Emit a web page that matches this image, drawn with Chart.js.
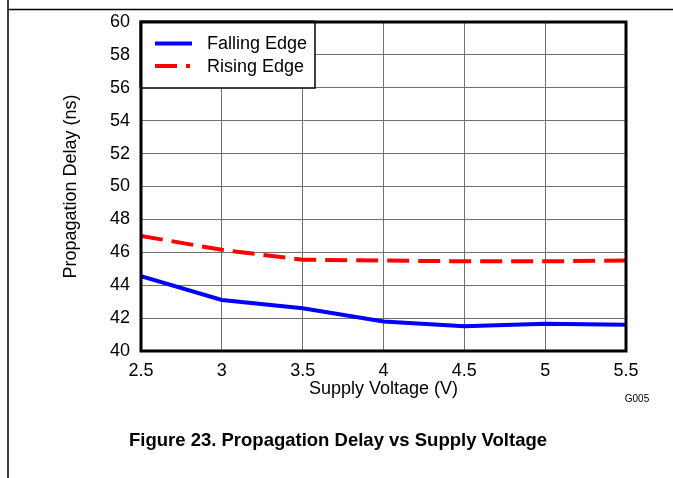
<!DOCTYPE html>
<html>
<head>
<meta charset="utf-8">
<script src="https://cdn.jsdelivr.net/npm/chart.js@4.4.1/dist/chart.umd.min.js"></script>
<style>
  html, body { margin: 0; padding: 0; background: #ffffff; }
  #wrap { width: 673px; height: 478px; }
</style>
</head>
<body>
<div id="wrap"><canvas id="c" width="673" height="478"></canvas></div>
<script>
// Data
const voltages = [2.5, 3, 3.5, 4, 4.5, 5, 5.5];
const fallingEdge = [44.55, 43.1, 42.6, 41.8, 41.5, 41.65, 41.6];
const risingEdge = [47.0, 46.15, 45.55, 45.5, 45.45, 45.45, 45.5];
const seriesNames = ['Falling Edge', 'Rising Edge'];
const xTitle = 'Supply Voltage (V)';
const yTitle = 'Propagation Delay (ns)';
const caption = 'Figure 23. Propagation Delay vs Supply Voltage';
const graphId = 'G005';

const FONT = '"Liberation Sans", Arial, Helvetica, sans-serif';

const decorPlugin = {
  id: 'decor',
  afterDraw(chart) {
    const ctx = chart.ctx;
    const a = chart.chartArea;
    ctx.save();
    // page border lines
    ctx.strokeStyle = '#000';
    ctx.lineWidth = 1.5;
    ctx.beginPath();
    ctx.moveTo(8, 0); ctx.lineTo(8, 478);
    ctx.moveTo(8, 9.5); ctx.lineTo(673, 9.5);
    ctx.stroke();
    // plot frame
    ctx.lineWidth = 3;
    ctx.strokeRect(a.left, a.top, a.right - a.left, a.bottom - a.top);
    // legend box
    const lx = a.left, ly = a.top, lw = 174, lh = 66;
    ctx.fillStyle = '#fff';
    ctx.fillRect(lx, ly, lw, lh);
    ctx.lineWidth = 1.5;
    ctx.strokeRect(lx, ly, lw, lh);
    ctx.lineWidth = 3;
    ctx.beginPath();
    ctx.moveTo(lx, ly + lh); ctx.lineTo(lx, ly); ctx.lineTo(lx + lw, ly);
    ctx.stroke();
    const ds = chart.data.datasets;
    const rows = [43.5, 66];
    ds.forEach((d, i) => {
      ctx.beginPath();
      ctx.strokeStyle = d.borderColor;
      ctx.lineWidth = 4;
      ctx.setLineDash(i === 1 ? [22, 9, 4, 9] : []);
      ctx.moveTo(lx + 14, rows[i]);
      ctx.lineTo(lx + 51, rows[i]);
      ctx.stroke();
      ctx.setLineDash([]);
      ctx.fillStyle = '#000';
      ctx.font = '18px ' + FONT;
      ctx.textAlign = 'left';
      ctx.textBaseline = 'middle';
      ctx.fillText(d.label, lx + 66, rows[i] + 1);
    });
    // graph id
    ctx.fillStyle = '#000';
    ctx.font = '10px ' + FONT;
    ctx.textAlign = 'center';
    ctx.textBaseline = 'middle';
    ctx.fillText(graphId, 637, 399);
    // caption
    ctx.font = 'bold 18.5px ' + FONT;
    ctx.textAlign = 'center';
    ctx.textBaseline = 'alphabetic';
    ctx.fillText(caption, 338, 446);
    ctx.restore();
  }
};

const ctx = document.getElementById('c').getContext('2d');
new Chart(ctx, {
  type: 'line',
  data: {
    datasets: [
      {
        label: seriesNames[0],
        data: voltages.map((v, i) => ({ x: v, y: fallingEdge[i] })),
        borderColor: '#0000ff',
        borderWidth: 4,
        pointRadius: 0,
        tension: 0,
        fill: false
      },
      {
        label: seriesNames[1],
        data: voltages.map((v, i) => ({ x: v, y: risingEdge[i] })),
        borderColor: '#ff0000',
        borderWidth: 4,
        borderDash: [22, 9],
        pointRadius: 0,
        tension: 0,
        fill: false
      }
    ]
  },
  options: {
    responsive: false,
    animation: false,
    devicePixelRatio: 1,
    layout: { padding: { left: 0, top: 22, right: 47, bottom: 0 } },
    plugins: {
      legend: { display: false },
      tooltip: { enabled: false },
      title: { display: false }
    },
    scales: {
      x: {
        type: 'linear',
        min: 2.5, max: 5.5,
        afterFit(s) { s.height = 127; },
        ticks: {
          stepSize: 0.5,
          padding: 9,
          color: '#000',
          font: { family: FONT, size: 18 },
          maxRotation: 0,
          callback: v => String(v)
        },
        grid: { color: '#707070', lineWidth: 1, drawTicks: false },
        border: { display: false },
        title: {
          display: true,
          text: xTitle,
          color: '#000',
          font: { family: FONT, size: 18 },
          padding: { top: 0, bottom: 78 }
        }
      },
      y: {
        min: 40, max: 60,
        afterFit(s) { s.width = 141; },
        ticks: {
          stepSize: 2,
          padding: 11,
          color: '#000',
          font: { family: FONT, size: 18 }
        },
        grid: { color: '#707070', lineWidth: 1, drawTicks: false },
        border: { display: false },
        title: {
          display: true,
          text: yTitle,
          color: '#000',
          font: { family: FONT, size: 18 },
          padding: { top: 60, bottom: 0 }
        }
      }
    }
  },
  plugins: [decorPlugin]
});
</script>
</body>
</html>
